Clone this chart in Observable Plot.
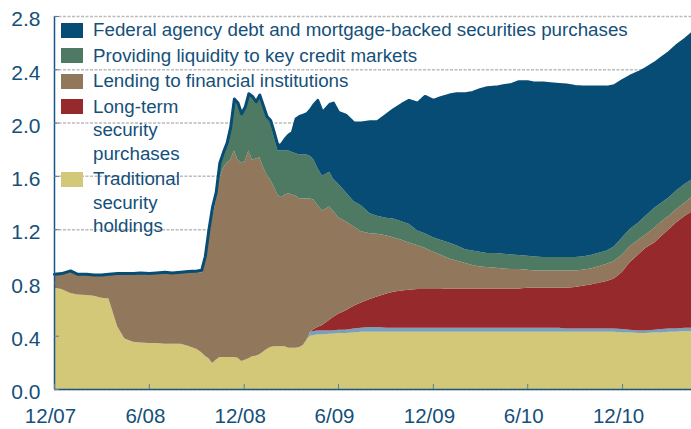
<!DOCTYPE html>
<html><head><meta charset="utf-8">
<script src="https://cdn.jsdelivr.net/npm/d3@7"></script>
<script src="https://cdn.jsdelivr.net/npm/@observablehq/plot@0.6"></script>
<style>
body{margin:0;background:#fff;}
#wrap{position:relative;width:691px;height:429px;font-family:"Liberation Sans",Arial,sans-serif;}
#legend{position:absolute;left:61px;top:18px;color:#15507A;font-size:18.75px;line-height:23.5px;}
.item{display:flex;align-items:flex-start;margin-bottom:2px;}
.sw{width:22px;height:15px;margin-top:4.5px;margin-right:10px;flex:none;}
</style></head><body><div id="wrap"></div>
<script>
// ---- data (trillions of dollars), top edge of each stacked layer ----
const dates = [
"2007-12-01","2007-12-15","2008-01-01","2008-01-15","2008-02-01","2008-02-15","2008-03-01","2008-03-15","2008-04-01","2008-04-15",
"2008-05-01","2008-05-15","2008-06-01","2008-06-15","2008-07-01","2008-07-15","2008-08-01","2008-08-15","2008-09-01","2008-09-10",
"2008-09-17","2008-09-24","2008-10-01","2008-10-08","2008-10-15","2008-10-22","2008-10-29","2008-11-05","2008-11-12","2008-11-19",
"2008-11-26","2008-12-03","2008-12-10","2008-12-17","2008-12-24","2008-12-31","2009-01-07","2009-01-14","2009-01-21","2009-01-28",
"2009-02-04","2009-02-11","2009-02-18","2009-02-25","2009-03-04","2009-03-11","2009-03-18","2009-03-25","2009-04-01","2009-04-08",
"2009-04-15","2009-04-22","2009-05-01","2009-05-15","2009-05-22","2009-06-01","2009-06-15","2009-07-01","2009-07-15","2009-08-01",
"2009-08-15","2009-09-01","2009-09-15","2009-10-01","2009-10-15","2009-11-01","2009-11-15","2009-12-01","2009-12-15","2010-01-01",
"2010-01-15","2010-02-01","2010-02-15","2010-03-01","2010-03-15","2010-04-01","2010-04-15","2010-05-01","2010-05-15","2010-06-01",
"2010-06-15","2010-07-01","2010-07-15","2010-08-01","2010-08-15","2010-09-01","2010-09-15","2010-10-01","2010-10-15","2010-11-01",
"2010-11-15","2010-12-01","2010-12-15","2011-01-01","2011-01-15","2011-02-01","2011-02-15","2011-03-01","2011-03-15","2011-04-01",
"2011-04-13"];

const traditionalTop = [
.76,.75,.72,.71,.705,.70,.685,.68,.47,.38,
.355,.35,.345,.345,.34,.34,.34,.325,.30,.275,
.25,.23,.195,.22,.24,.24,.24,.24,.24,.235,
.21,.22,.23,.245,.25,.26,.28,.30,.315,.32,
.32,.32,.32,.31,.31,.31,.315,.33,.37,.40,
.405,.41,.41,.415,.415,.42,.42,.425,.43,.43,
.43,.43,.43,.43,.43,.43,.43,.43,.43,.43,
.43,.43,.43,.43,.43,.43,.43,.43,.43,.43,
.43,.43,.43,.43,.43,.43,.43,.43,.43,.43,
.43,.425,.425,.42,.42,.425,.425,.43,.43,.435,
.435];

const otherTop = [
.76,.75,.72,.71,.705,.70,.685,.68,.47,.38,
.355,.35,.345,.345,.34,.34,.34,.325,.30,.275,
.25,.23,.195,.22,.24,.24,.24,.24,.24,.235,
.21,.22,.23,.245,.25,.26,.28,.30,.315,.32,
.32,.32,.32,.31,.31,.31,.315,.33,.37,.43,
.435,.44,.44,.44,.44,.445,.445,.455,.46,.465,
.465,.46,.46,.46,.46,.46,.46,.46,.46,.46,
.46,.46,.46,.46,.46,.46,.46,.46,.46,.46,
.46,.46,.46,.46,.455,.455,.455,.455,.455,.455,
.455,.45,.445,.44,.44,.445,.45,.455,.455,.46,
.46];

const longTermTop = [
.76,.75,.72,.71,.705,.70,.685,.68,.47,.38,
.355,.35,.345,.345,.34,.34,.34,.325,.30,.275,
.25,.23,.195,.22,.24,.24,.24,.24,.24,.235,
.21,.22,.23,.245,.25,.26,.28,.30,.315,.32,
.32,.32,.32,.31,.31,.31,.315,.33,.37,.43,
.45,.465,.48,.52,.54,.565,.59,.625,.65,.675,
.695,.715,.73,.74,.745,.75,.75,.75,.75,.755,
.755,.755,.755,.755,.755,.755,.755,.755,.755,.76,
.76,.76,.76,.76,.76,.765,.775,.785,.795,.81,
.83,.88,.95,1.01,1.06,1.10,1.15,1.20,1.25,1.30,
1.33];

const lendingTop = [
.86,.865,.88,.86,.86,.855,.855,.86,.865,.865,
.865,.865,.86,.865,.87,.865,.87,.87,.87,.875,
.96,1.12,1.29,1.42,1.58,1.66,1.70,1.72,1.79,1.72,
1.70,1.71,1.79,1.72,1.73,1.74,1.67,1.61,1.57,1.52,
1.46,1.44,1.46,1.47,1.46,1.45,1.43,1.43,1.43,1.43,
1.42,1.38,1.34,1.37,1.34,1.29,1.26,1.22,1.185,1.17,
1.165,1.155,1.14,1.12,1.10,1.08,1.06,1.03,1.01,.98,
.965,.945,.93,.92,.915,.91,.905,.90,.90,.895,
.89,.89,.89,.89,.89,.89,.895,.905,.92,.94,
.96,1.01,1.07,1.12,1.16,1.21,1.26,1.30,1.35,1.40,
1.44];

const liquidityTop = [
.865,.87,.89,.865,.865,.86,.86,.865,.87,.87,
.87,.875,.87,.875,.88,.875,.88,.885,.89,.895,
1.0,1.2,1.37,1.48,1.70,1.78,1.85,1.97,2.18,2.15,
2.07,2.12,2.22,2.20,2.16,2.21,2.13,2.05,2.0,1.90,
1.79,1.79,1.79,1.79,1.78,1.77,1.76,1.76,1.76,1.75,
1.72,1.66,1.60,1.63,1.58,1.54,1.48,1.41,1.38,1.32,
1.30,1.285,1.28,1.26,1.24,1.19,1.17,1.14,1.12,1.10,
1.08,1.05,1.04,1.03,1.02,1.02,1.015,1.01,1.005,1.0,
.995,.99,.99,.99,.99,.99,.995,1.005,1.02,1.04,
1.07,1.14,1.20,1.25,1.30,1.36,1.40,1.44,1.49,1.54,
1.57];

const totalTop = [
.865,.87,.89,.865,.865,.86,.86,.865,.87,.87,
.87,.875,.87,.875,.88,.875,.88,.885,.89,.895,
1.0,1.2,1.37,1.48,1.70,1.78,1.85,1.97,2.18,2.15,
2.07,2.12,2.22,2.20,2.16,2.21,2.13,2.05,2.02,1.93,
1.83,1.84,1.88,1.91,1.93,2.03,2.05,2.06,2.07,2.10,
2.14,2.17,2.08,2.14,2.15,2.08,2.06,2.0,2.0,2.01,
2.01,2.06,2.10,2.14,2.17,2.15,2.20,2.17,2.19,2.21,
2.22,2.22,2.23,2.25,2.265,2.27,2.28,2.29,2.31,2.31,
2.30,2.30,2.295,2.29,2.285,2.275,2.27,2.27,2.27,2.27,
2.28,2.32,2.35,2.38,2.41,2.45,2.49,2.53,2.58,2.63,
2.67];

const seriesNames = [
  "Federal agency debt and mortgage-backed securities purchases",
  "Providing liquidity to key credit markets",
  "Lending to financial institutions",
  "Long-term\nsecurity\npurchases",
  "Traditional\nsecurity\nholdings"
];
const seriesColors = ["#064C74", "#4E7A64", "#91785C", "#96292B", "#D3C878"];
const otherColor = "#7BA0BA";
const yTicks = [0, 0.4, 0.8, 1.2, 1.6, 2.0, 2.4, 2.8];
const xTickDates = ["2007-12-01","2008-06-01","2008-12-01","2009-06-01","2009-12-01","2010-06-01","2010-12-01"];
const domainEnd = "2011-04-13";

// ---- build ----
const parse = d3.utcParse("%Y-%m-%d");
const rows = dates.map((d, i) => ({
  date: parse(d),
  t: traditionalTop[i], o: otherTop[i], l: longTermTop[i],
  b: lendingTop[i], g: liquidityTop[i], T: totalTop[i]
}));
const xTicks = xTickDates.map(parse);
const fmt = d => `${d.getUTCMonth() + 1}/${String(d.getUTCFullYear()).slice(2)}`;
const textColor = "#15507A";
const axisColor = "#1B5583";

const chart = Plot.plot({
  width: 691, height: 429,
  marginLeft: 54, marginRight: 0, marginTop: 16, marginBottom: 40,
  style: {fontFamily: '"Liberation Sans", Arial, sans-serif', color: textColor, background: "#fff"},
  x: {type: "utc", domain: [parse(dates[0]), parse(domainEnd)]},
  y: {domain: [0, 2.8]},
  marks: [
    Plot.gridY(yTicks, {stroke: "#bcbcbc", strokeOpacity: 1, strokeWidth: 1.5, strokeDasharray: "3,1.5"}),
    Plot.areaY(rows, {x: "date", y1: 0, y2: "t", fill: seriesColors[4]}),
    Plot.areaY(rows, {x: "date", y1: "t", y2: "o", fill: otherColor}),
    Plot.areaY(rows, {x: "date", y1: "o", y2: "l", fill: seriesColors[3]}),
    Plot.areaY(rows, {x: "date", y1: "l", y2: "b", fill: seriesColors[2]}),
    Plot.areaY(rows, {x: "date", y1: "b", y2: "g", fill: seriesColors[1]}),
    Plot.areaY(rows, {x: "date", y1: "g", y2: "T", fill: seriesColors[0]}),
    Plot.line(rows, {x: "date", y: "T", stroke: seriesColors[0], strokeWidth: 3}),
    Plot.ruleX([parse(dates[0])], {stroke: axisColor, strokeWidth: 1.5}),
    Plot.ruleY([0], {stroke: axisColor, strokeWidth: 1.5}),
    Plot.axisY(yTicks, {tickSize: 0, tickPadding: 14, tickFormat: d => d.toFixed(1), fontSize: 21, dy: 3}),
    Plot.axisY(yTicks, {tickSize: -5, tickFormat: () => "", stroke: "#5d7d94"}),
    Plot.axisX(xTicks, {tickSize: 0, tickPadding: 19, tickFormat: fmt, fontSize: 20.5, dx: -4}),
    Plot.axisX(xTicks, {tickSize: -5, tickFormat: () => "", stroke: "#5d7d94"})
  ]
});

const wrap = document.getElementById("wrap");
wrap.appendChild(chart);
const legend = document.createElement("div");
legend.id = "legend";
seriesNames.forEach((name, i) => {
  const item = document.createElement("div");
  item.className = "item";
  const sw = document.createElement("div");
  sw.className = "sw";
  sw.style.background = seriesColors[i];
  const label = document.createElement("div");
  label.innerHTML = name.split("\n").join("<br>");
  item.appendChild(sw);
  item.appendChild(label);
  legend.appendChild(item);
});
wrap.appendChild(legend);
</script></body></html>
